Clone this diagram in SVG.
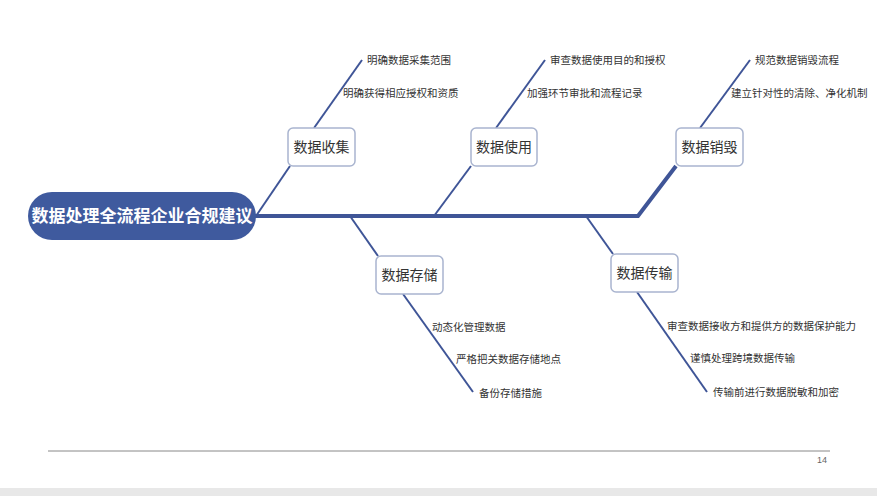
<svg xmlns="http://www.w3.org/2000/svg" width="877" height="496" viewBox="0 0 877 496">
<style>
.l{stroke:#3f5597;stroke-width:2;fill:none}
.sp{stroke:#3f5597;stroke-width:4;fill:none}
.b{fill:#fff;stroke:#a9b4cf;stroke-width:1.5}
.bt{font-family:"Liberation Sans","Noto Sans CJK SC",sans-serif;font-size:14px;fill:#333;text-anchor:middle}
.t{font-family:"Liberation Sans","Noto Sans CJK SC",sans-serif;font-size:10.5px;fill:#333}
</style>
<rect width="877" height="496" fill="#fff"/>
<rect y="488" width="877" height="8" fill="#e8e8e8"/>
<g id="connectors">
<polyline class="sp" points="250,216 638,216 676,166"/>
<line class="l" x1="256" y1="216" x2="290" y2="166"/>
<line class="l" x1="314" y1="128" x2="362" y2="60"/>
<line class="l" x1="434" y1="216" x2="471" y2="166"/>
<line class="l" x1="496" y1="128" x2="545" y2="60"/>
<line class="l" x1="700" y1="128" x2="750" y2="60"/>
<line class="l" x1="350" y1="216" x2="378" y2="256"/>
<line class="l" x1="403" y1="294" x2="473" y2="392"/>
<line class="l" x1="586" y1="216" x2="613" y2="254"/>
<line class="l" x1="637" y1="292" x2="707" y2="392"/>
</g>
<g id="main"><rect x="28" y="192" width="228" height="48" rx="24" fill="#3f5a9e"/>
<text x="142" y="222" font-family="Liberation Sans,'Noto Sans CJK SC',sans-serif" font-size="17" font-weight="bold" fill="#fff" text-anchor="middle">数据处理全流程企业合规建议</text></g>
<g id="collect"><rect class="b" x="288" y="128" width="67" height="38" rx="5"/><text class="bt" x="321.5" y="152">数据收集</text>
<text class="t" x="367" y="64">明确数据采集范围</text><text class="t" x="343" y="97">明确获得相应授权和资质</text></g>
<g id="use"><rect class="b" x="471" y="128" width="66" height="38" rx="5"/><text class="bt" x="504" y="152">数据使用</text>
<text class="t" x="550" y="64">审查数据使用目的和授权</text><text class="t" x="527" y="97">加强环节审批和流程记录</text></g>
<g id="destroy"><rect class="b" x="676" y="128" width="67" height="38" rx="5"/><text class="bt" x="709.5" y="152">数据销毁</text>
<text class="t" x="755" y="64">规范数据销毁流程</text><text class="t" x="731" y="97">建立针对性的清除、净化机制</text></g>
<g id="store"><rect class="b" x="376" y="256" width="67" height="38" rx="5"/><text class="bt" x="409.5" y="280">数据存储</text>
<text class="t" x="432" y="331">动态化管理数据</text><text class="t" x="456" y="363">严格把关数据存储地点</text><text class="t" x="479" y="397">备份存储措施</text></g>
<g id="transfer"><rect class="b" x="611" y="254" width="67" height="38" rx="5"/><text class="bt" x="644.5" y="278">数据传输</text>
<text class="t" x="667" y="330">审查数据接收方和提供方的数据保护能力</text><text class="t" x="690" y="362">谨慎处理跨境数据传输</text><text class="t" x="713" y="396">传输前进行数据脱敏和加密</text></g>
<line x1="48" y1="451" x2="830" y2="451" stroke="#888" stroke-width="1"/>
<text x="817" y="463" font-family="Liberation Sans,sans-serif" font-size="9" fill="#666">14</text>
</svg>
